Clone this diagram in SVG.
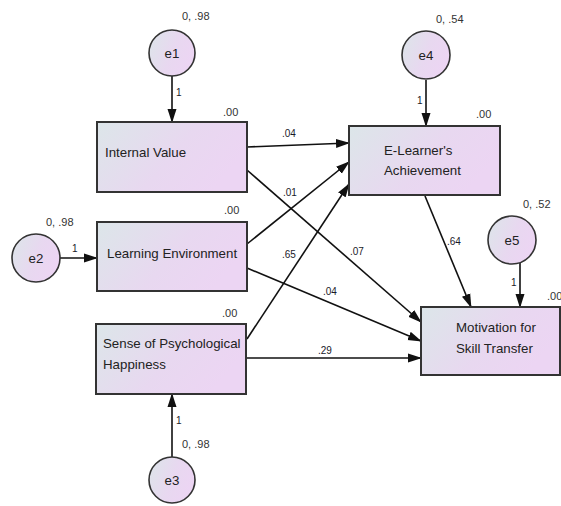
<svg xmlns="http://www.w3.org/2000/svg" width="561" height="506" viewBox="0 0 561 506">
<defs>
<linearGradient id="g" x1="0" y1="0" x2="1" y2="0.4">
<stop offset="0" stop-color="#dce6e9"/>
<stop offset="0.6" stop-color="#e8d8f0"/>
<stop offset="1" stop-color="#ecd5f3"/>
</linearGradient>
<marker id="ah" markerUnits="userSpaceOnUse" markerWidth="14" markerHeight="10" refX="13" refY="5" orient="auto">
<path d="M0,0.5 L14,5 L0,9.5 Z" fill="#111"/>
</marker>
<style>
.box{fill:url(#g);stroke:#333;stroke-width:2}
.lat{fill:url(#g);stroke:#333;stroke-width:1.6}
.t{font-family:"Liberation Sans",Arial,sans-serif;font-size:13.3px;fill:#222}
.n{font-family:"Liberation Sans",Arial,sans-serif;font-size:11px;fill:#333}
.el{font-family:"Liberation Sans",Arial,sans-serif;font-size:10px;fill:#1a1a2a}
.c{fill:none;stroke:#111;stroke-width:1.6;marker-end:url(#ah)}
</style>
</defs>
<g id="connectors">
<line class="c" x1="172" y1="76" x2="172" y2="122"/>
<line class="c" x1="426" y1="80" x2="426" y2="126"/>
<line class="c" x1="60" y1="258" x2="97" y2="258"/>
<line class="c" x1="172" y1="457" x2="172" y2="394"/>
<line class="c" x1="520" y1="263" x2="520" y2="307"/>
<line class="c" x1="247" y1="147" x2="349" y2="143"/>
<line class="c" x1="247" y1="170" x2="421" y2="322"/>
<line class="c" x1="247" y1="244" x2="349" y2="162"/>
<line class="c" x1="247" y1="268" x2="421" y2="341"/>
<line class="c" x1="247" y1="339" x2="349" y2="184"/>
<line class="c" x1="247" y1="358" x2="421" y2="358"/>
<line class="c" x1="425" y1="196" x2="471" y2="307"/>
<text class="el" x="176" y="96">1</text>
<text class="el" x="417" y="104">1</text>
<text class="el" x="72" y="252">1</text>
<text class="el" x="176" y="424">1</text>
<text class="el" x="511" y="286">1</text>
<text class="el" x="282" y="137">.04</text>
<text class="el" x="283" y="196">.01</text>
<text class="el" x="350" y="255">.07</text>
<text class="el" x="282" y="258">.65</text>
<text class="el" x="323" y="295">.04</text>
<text class="el" x="318" y="354">.29</text>
<text class="el" x="447" y="245">.64</text>
</g>
<g id="e1">
<circle class="lat" cx="172" cy="53" r="23"/>
<text class="t" x="172" y="58" text-anchor="middle">e1</text>
<text class="n" x="182" y="20">0, .98</text>
</g>
<g id="e4">
<circle class="lat" cx="426" cy="55" r="24"/>
<text class="t" x="426" y="60" text-anchor="middle">e4</text>
<text class="n" x="436" y="23">0, .54</text>
</g>
<g id="e2">
<circle class="lat" cx="36" cy="258" r="24"/>
<text class="t" x="36" y="263" text-anchor="middle">e2</text>
<text class="n" x="46" y="226">0, .98</text>
</g>
<g id="e3">
<circle class="lat" cx="172" cy="480" r="23"/>
<text class="t" x="172" y="485" text-anchor="middle">e3</text>
<text class="n" x="182" y="448">0, .98</text>
</g>
<g id="e5">
<circle class="lat" cx="512" cy="240" r="24"/>
<text class="t" x="512" y="245" text-anchor="middle">e5</text>
<text class="n" x="523" y="208">0, .52</text>
</g>
<g id="internal-value">
<rect class="box" x="97" y="122" width="150" height="70"/>
<text class="t" x="105" y="157">Internal Value</text>
<text class="n" x="223" y="116">.00</text>
</g>
<g id="learning-environment">
<rect class="box" x="97" y="222" width="150" height="69"/>
<text class="t" x="107" y="258">Learning Environment</text>
<text class="n" x="224" y="214">.00</text>
</g>
<g id="psychological-happiness">
<rect class="box" x="96" y="324" width="150" height="70"/>
<text class="t" x="103" y="348">Sense of Psychological</text>
<text class="t" x="103" y="369">Happiness</text>
<text class="n" x="222" y="317">.00</text>
</g>
<g id="achievement">
<rect class="box" x="349" y="126" width="151" height="69"/>
<text class="t" x="384" y="155">E-Learner's</text>
<text class="t" x="384" y="175">Achievement</text>
<text class="n" x="476" y="118">.00</text>
</g>
<g id="motivation">
<rect class="box" x="421" y="307" width="139" height="68"/>
<text class="t" x="456" y="332">Motivation for</text>
<text class="t" x="456" y="353">Skill Transfer</text>
<text class="n" x="547" y="300">.00</text>
</g>
</svg>
